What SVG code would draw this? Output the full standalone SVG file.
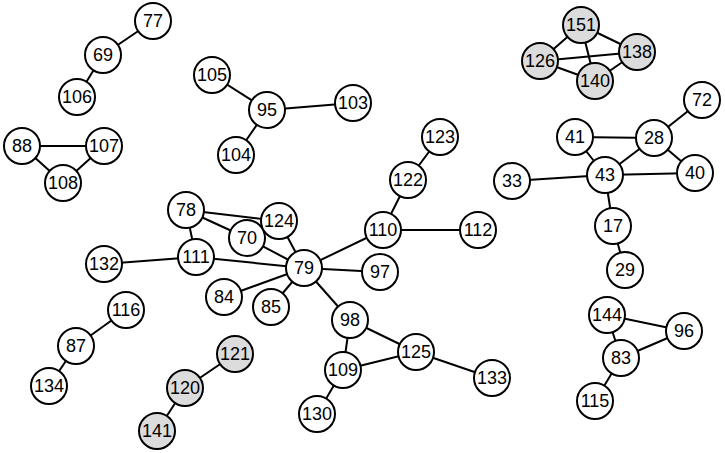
<svg xmlns="http://www.w3.org/2000/svg" width="725" height="453" viewBox="0 0 725 453">
<style>
.e line{stroke:#000;stroke-width:2}
.n circle{fill:#fff;stroke:#000;stroke-width:2}
.g circle{fill:#dcdcdc}
.n text{font-family:"Liberation Sans",Arial,sans-serif;font-size:18px;text-anchor:middle;dominant-baseline:central;fill:#000}
</style>
<rect width="725" height="453" fill="#fff"/>
<g id="edges" class="e">
<line x1="153" y1="21" x2="103" y2="55"/>
<line x1="103" y1="55" x2="77" y2="97"/>
<line x1="22" y1="146" x2="104" y2="146"/>
<line x1="22" y1="146" x2="63" y2="183"/>
<line x1="104" y1="146" x2="63" y2="183"/>
<line x1="212" y1="75" x2="267" y2="110"/>
<line x1="267" y1="110" x2="353" y2="103"/>
<line x1="267" y1="110" x2="236" y2="155"/>
<line x1="581" y1="25" x2="540" y2="61"/>
<line x1="581" y1="25" x2="637" y2="52"/>
<line x1="581" y1="25" x2="595" y2="81"/>
<line x1="540" y1="61" x2="637" y2="52"/>
<line x1="540" y1="61" x2="595" y2="81"/>
<line x1="595" y1="81" x2="637" y2="52"/>
<line x1="702" y1="100" x2="654" y2="138"/>
<line x1="575" y1="137" x2="654" y2="138"/>
<line x1="575" y1="137" x2="605" y2="175"/>
<line x1="654" y1="138" x2="605" y2="175"/>
<line x1="654" y1="138" x2="695" y2="173"/>
<line x1="605" y1="175" x2="695" y2="173"/>
<line x1="512" y1="181" x2="605" y2="175"/>
<line x1="605" y1="175" x2="613" y2="226"/>
<line x1="613" y1="226" x2="625" y2="270"/>
<line x1="440" y1="137" x2="408" y2="180"/>
<line x1="408" y1="180" x2="383" y2="230"/>
<line x1="383" y1="230" x2="478" y2="230"/>
<line x1="383" y1="230" x2="304" y2="268"/>
<line x1="186" y1="210" x2="279" y2="221"/>
<line x1="186" y1="210" x2="247" y2="238"/>
<line x1="186" y1="210" x2="196" y2="257"/>
<line x1="279" y1="221" x2="304" y2="268"/>
<line x1="247" y1="238" x2="304" y2="268"/>
<line x1="196" y1="257" x2="304" y2="268"/>
<line x1="104" y1="264" x2="196" y2="257"/>
<line x1="224" y1="297" x2="304" y2="268"/>
<line x1="271" y1="307" x2="304" y2="268"/>
<line x1="380" y1="272" x2="304" y2="268"/>
<line x1="350" y1="320" x2="304" y2="268"/>
<line x1="350" y1="320" x2="343" y2="370"/>
<line x1="350" y1="320" x2="416" y2="352"/>
<line x1="343" y1="370" x2="416" y2="352"/>
<line x1="416" y1="352" x2="492" y2="378"/>
<line x1="343" y1="370" x2="317" y2="414"/>
<line x1="235" y1="354" x2="185" y2="388"/>
<line x1="185" y1="388" x2="157" y2="431"/>
<line x1="126" y1="310" x2="76" y2="346"/>
<line x1="76" y1="346" x2="49" y2="386"/>
<line x1="607" y1="315" x2="684" y2="331"/>
<line x1="607" y1="315" x2="621" y2="358"/>
<line x1="621" y1="358" x2="684" y2="331"/>
<line x1="621" y1="358" x2="595" y2="401"/>
</g>
<g id="n77" class="n"><circle cx="153" cy="21" r="18"/><text x="153" y="21">77</text></g>
<g id="n69" class="n"><circle cx="103" cy="55" r="18"/><text x="103" y="55">69</text></g>
<g id="n106" class="n"><circle cx="77" cy="97" r="18"/><text x="77" y="97">106</text></g>
<g id="n88" class="n"><circle cx="22" cy="146" r="18"/><text x="22" y="146">88</text></g>
<g id="n107" class="n"><circle cx="104" cy="146" r="18"/><text x="104" y="146">107</text></g>
<g id="n108" class="n"><circle cx="63" cy="183" r="18"/><text x="63" y="183">108</text></g>
<g id="n105" class="n"><circle cx="212" cy="75" r="18"/><text x="212" y="75">105</text></g>
<g id="n95" class="n"><circle cx="267" cy="110" r="18"/><text x="267" y="110">95</text></g>
<g id="n103" class="n"><circle cx="353" cy="103" r="18"/><text x="353" y="103">103</text></g>
<g id="n104" class="n"><circle cx="236" cy="155" r="18"/><text x="236" y="155">104</text></g>
<g id="n151" class="n g"><circle cx="581" cy="25" r="18"/><text x="581" y="25">151</text></g>
<g id="n126" class="n g"><circle cx="540" cy="61" r="18"/><text x="540" y="61">126</text></g>
<g id="n138" class="n g"><circle cx="637" cy="52" r="18"/><text x="637" y="52">138</text></g>
<g id="n140" class="n g"><circle cx="595" cy="81" r="18"/><text x="595" y="81">140</text></g>
<g id="n72" class="n"><circle cx="702" cy="100" r="18"/><text x="702" y="100">72</text></g>
<g id="n41" class="n"><circle cx="575" cy="137" r="18"/><text x="575" y="137">41</text></g>
<g id="n28" class="n"><circle cx="654" cy="138" r="18"/><text x="654" y="138">28</text></g>
<g id="n43" class="n"><circle cx="605" cy="175" r="18"/><text x="605" y="175">43</text></g>
<g id="n40" class="n"><circle cx="695" cy="173" r="18"/><text x="695" y="173">40</text></g>
<g id="n33" class="n"><circle cx="512" cy="181" r="18"/><text x="512" y="181">33</text></g>
<g id="n17" class="n"><circle cx="613" cy="226" r="18"/><text x="613" y="226">17</text></g>
<g id="n29" class="n"><circle cx="625" cy="270" r="18"/><text x="625" y="270">29</text></g>
<g id="n123" class="n"><circle cx="440" cy="137" r="18"/><text x="440" y="137">123</text></g>
<g id="n122" class="n"><circle cx="408" cy="180" r="18"/><text x="408" y="180">122</text></g>
<g id="n110" class="n"><circle cx="383" cy="230" r="18"/><text x="383" y="230">110</text></g>
<g id="n112" class="n"><circle cx="478" cy="230" r="18"/><text x="478" y="230">112</text></g>
<g id="n78" class="n"><circle cx="186" cy="210" r="18"/><text x="186" y="210">78</text></g>
<g id="n70" class="n"><circle cx="247" cy="238" r="18"/><text x="247" y="238">70</text></g>
<g id="n124" class="n"><circle cx="279" cy="221" r="18"/><text x="279" y="221">124</text></g>
<g id="n111" class="n"><circle cx="196" cy="257" r="18"/><text x="196" y="257">111</text></g>
<g id="n132" class="n"><circle cx="104" cy="264" r="18"/><text x="104" y="264">132</text></g>
<g id="n79" class="n"><circle cx="304" cy="268" r="18"/><text x="304" y="268">79</text></g>
<g id="n97" class="n"><circle cx="380" cy="272" r="18"/><text x="380" y="272">97</text></g>
<g id="n84" class="n"><circle cx="224" cy="297" r="18"/><text x="224" y="297">84</text></g>
<g id="n85" class="n"><circle cx="271" cy="307" r="18"/><text x="271" y="307">85</text></g>
<g id="n98" class="n"><circle cx="350" cy="320" r="18"/><text x="350" y="320">98</text></g>
<g id="n125" class="n"><circle cx="416" cy="352" r="18"/><text x="416" y="352">125</text></g>
<g id="n109" class="n"><circle cx="343" cy="370" r="18"/><text x="343" y="370">109</text></g>
<g id="n133" class="n"><circle cx="492" cy="378" r="18"/><text x="492" y="378">133</text></g>
<g id="n130" class="n"><circle cx="317" cy="414" r="18"/><text x="317" y="414">130</text></g>
<g id="n121" class="n g"><circle cx="235" cy="354" r="18"/><text x="235" y="354">121</text></g>
<g id="n120" class="n g"><circle cx="185" cy="388" r="18"/><text x="185" y="388">120</text></g>
<g id="n141" class="n g"><circle cx="157" cy="431" r="18"/><text x="157" y="431">141</text></g>
<g id="n116" class="n"><circle cx="126" cy="310" r="18"/><text x="126" y="310">116</text></g>
<g id="n87" class="n"><circle cx="76" cy="346" r="18"/><text x="76" y="346">87</text></g>
<g id="n134" class="n"><circle cx="49" cy="386" r="18"/><text x="49" y="386">134</text></g>
<g id="n144" class="n"><circle cx="607" cy="315" r="18"/><text x="607" y="315">144</text></g>
<g id="n96" class="n"><circle cx="684" cy="331" r="18"/><text x="684" y="331">96</text></g>
<g id="n83" class="n"><circle cx="621" cy="358" r="18"/><text x="621" y="358">83</text></g>
<g id="n115" class="n"><circle cx="595" cy="401" r="18"/><text x="595" y="401">115</text></g>
</svg>
